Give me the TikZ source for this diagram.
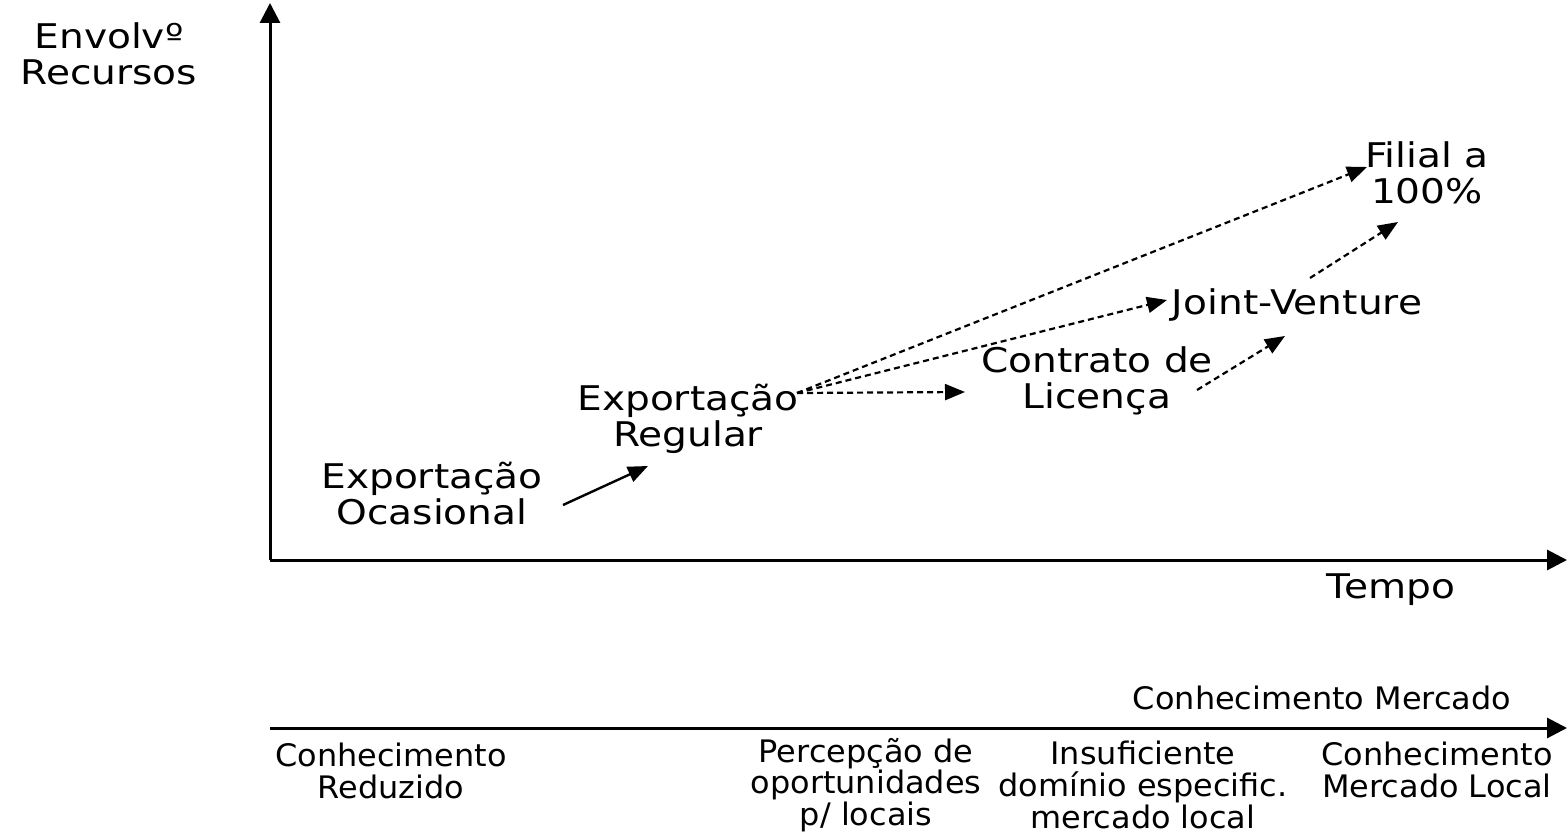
\documentclass[tikz,border=0pt]{standalone}
\usepackage{fontspec}
\setmainfont{DejaVu Sans}[FakeStretch=1.15]
\newfontfamily\botfont{DejaVu Sans}[FakeStretch=1.03]
\usetikzlibrary{arrows.meta}
\begin{document}
\begin{tikzpicture}[x=0.5pt,y=-0.5pt,
  lbl/.style={align=center,inner sep=0pt,font=\fontsize{17}{18}\selectfont},
  blbl/.style={align=center,inner sep=0pt,font=\botfont\fontsize{15.5}{15.8}\selectfont},
  axis/.style={line width=1.5pt,-{Triangle[length=10pt,width=10pt]}},
  solidarr/.style={line width=1.2pt,-{Triangle[length=10pt,width=8pt]}},
  dasharr/.style={line width=1.1pt,dash pattern=on 3pt off 2pt,-{Triangle[length=10pt,width=8pt]}}]
\useasboundingbox (0,0) rectangle (1567,833);
% axes
\coordinate (O) at (270,560);
\coordinate (ytop) at (270,3);
\coordinate (xend) at (1567,560);
\coordinate (bstart) at (270,728);
\coordinate (bend) at (1567,728);
\draw[axis] (O) -- (ytop);
\draw[axis] (O) -- (xend);
\draw[axis] (bstart) -- (bend);
% labels
\node[lbl] (ylab) at (109,54) {Envolvº\\Recursos};
\node[lbl] (tempo) at (1391,590) {Tempo};
\node[lbl] (filial) at (1427,173) {Filial a\\100\%};
\node[lbl] (jv) at (1297,305) {Joint-Venture};
\node[lbl] (cl) at (1097,381) {Contrato de\\Licença};
\node[lbl] (er) at (688,419) {Exportação\\Regular};
\node[lbl] (eo) at (432,494) {Exportação\\Ocasional};
\node[blbl] (cm) at (1322,698) {Conhecimento Mercado};
\node[blbl] (b1) at (391,771) {Conhecimento\\Reduzido};
\node[blbl] (b2) at (866,785) {Percepção de\\oportunidades\\p/ locais};
\node[blbl] (b3) at (1143,785) {Insuficiente\\domínio especific.\\mercado local};
\node[blbl] (b4) at (1437,770) {Conhecimento\\Mercado Local};
% arrow end points
\coordinate (eoS) at (563,505);
\coordinate (erE) at (648,466);
\coordinate (erS) at (797,393);
\coordinate (clE) at (965,392);
\coordinate (jvE) at (1167,300);
\coordinate (fiE) at (1367,167);
\coordinate (clS) at (1197,390);
\coordinate (jvE2) at (1285,336);
\coordinate (jvS) at (1310,278);
\coordinate (fiE2) at (1398,222);
% connectors
\draw[solidarr] (eoS) -- (erE);
\draw[dasharr] (erS) -- (clE);
\draw[dasharr] (erS) -- (jvE);
\draw[dasharr] (erS) -- (fiE);
\draw[dasharr] (clS) -- (jvE2);
\draw[dasharr] (jvS) -- (fiE2);
\end{tikzpicture}
\end{document}
